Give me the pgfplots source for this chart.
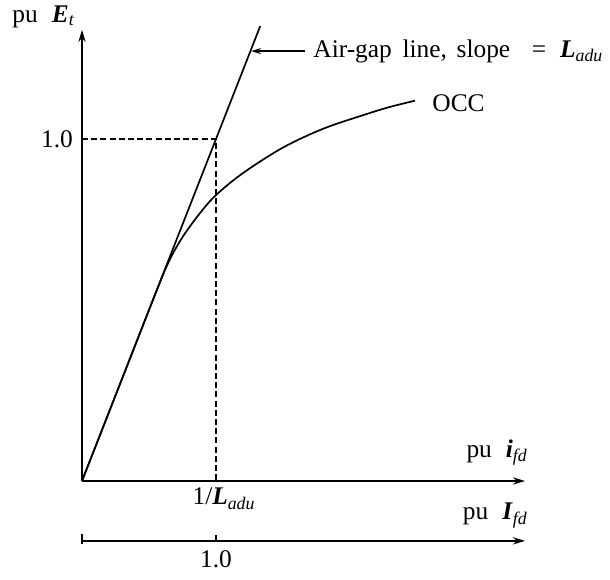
\documentclass[border=0pt]{standalone}
\usepackage{pgfplots}
\pgfplotsset{compat=1.18}
\usetikzlibrary{arrows.meta}
\usepackage{fontspec}
\setmainfont{Liberation Serif}

% symbol helpers (text italics so everything stays in the serif face)
\newcommand{\bi}[1]{\textbf{\textit{#1}}}
\newcommand{\sub}[1]{\textsubscript{\textit{#1}}}

\begin{document}
\fontsize{12.7}{14}\selectfont
\begin{tikzpicture}
\begin{axis}[
  at={(0,0)}, anchor=origin,
  x=67pt, y=171pt,
  xmin=0, xmax=3.306, ymin=0, ymax=1.319,
  axis lines=left,
  axis line style={line width=0.8pt,-{Stealth[length=6pt,width=3.6pt]}},
  ticks=none,
  clip=false,
]
% air-gap line (slope L_adu = 1 in these units)
\addplot[line width=0.85pt] coordinates {(0,0) (1.33,1.33)};
% open-circuit characteristic
\addplot[line width=0.85pt, smooth, tension=0.55] coordinates {
  (0,0) (0.30,0.30) (0.55,0.55) (0.65,0.643) (0.75,0.713) (0.88,0.783)
  (1.0,0.836) (1.2,0.900) (1.5,0.975) (1.8,1.030) (2.1,1.070)
  (2.3,1.094) (2.485,1.112)};
% rated voltage guide lines
\addplot[line width=0.7pt, dash pattern=on 3pt off 1.6pt] coordinates {(0,1) (1,1) (1,0)};

% second abscissa: field current in the other per-unit base
\draw[line width=0.8pt,-{Stealth[length=6pt,width=3.6pt]}]
  (axis cs:0,-0.175) -- (axis cs:3.306,-0.175);
\draw[line width=0.8pt] (axis cs:0,-0.175) ++(0,-1.5pt) -- ++(0,5pt);
\draw[line width=0.8pt] (axis cs:1,-0.175) -- ++(0,3pt);

% annotations
\draw[line width=0.8pt,-{Stealth[length=5pt,width=3pt]}]
  (axis cs:1.664,1.257) -- (axis cs:1.262,1.257);
\node[anchor=west, inner sep=0pt] at (axis cs:1.724,1.257)
  {Air-gap\hspace{0.42em}line,\hspace{0.38em}slope\hspace{0.85em}=\hspace{0.55em}\bi{L}\sub{adu}};
\node[anchor=west, inner sep=0pt] at (axis cs:2.612,1.105) {OCC};
\node[anchor=base west, inner sep=0pt] at (axis cs:-0.522,1.342) {pu\hspace{0.55em}\bi{E}\sub{t}};
\node[anchor=east, inner sep=0pt] at (axis cs:-0.065,1.0) {1.0};
\node[anchor=base east, inner sep=0pt] at (axis cs:3.33,0.07) {pu\hspace{0.55em}\bi{i}\sub{fd}};
\node[anchor=base east, inner sep=0pt] at (axis cs:3.33,-0.114) {pu\hspace{0.55em}\bi{I}\sub{fd}};
\node[anchor=base, inner sep=0pt] at (axis cs:1.06,-0.07) {1/\bi{L}\sub{adu}};
\node[anchor=base, inner sep=0pt] at (axis cs:1.0,-0.252) {1.0};
\end{axis}
\pgfresetboundingbox
\path[use as bounding box] (-41pt,-49pt) rectangle (264pt,240.5pt);
\end{tikzpicture}
\end{document}
